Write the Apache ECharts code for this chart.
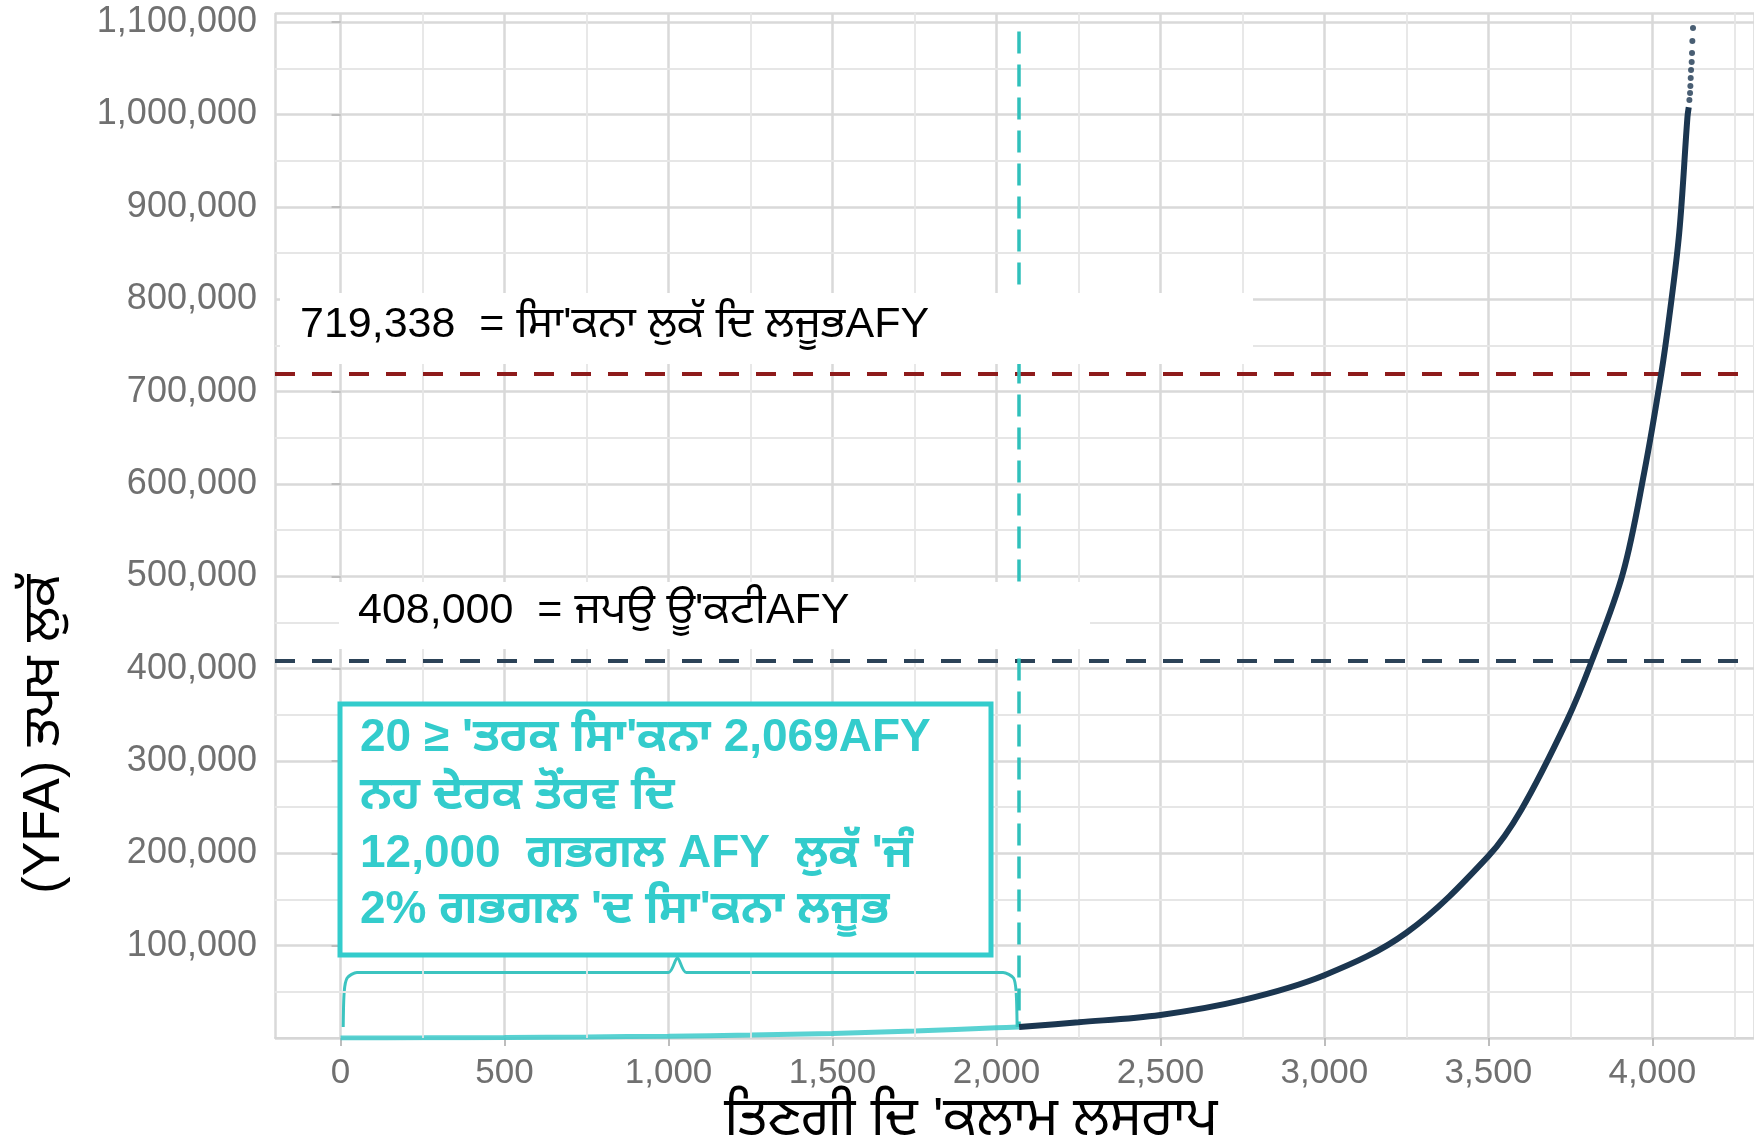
<!DOCTYPE html>
<html>
<head>
<meta charset="utf-8">
<script src="https://cdn.jsdelivr.net/npm/echarts@6/dist/echarts.min.js"></script>
<style>
  html, body { margin: 0; padding: 0; background: #fff; }
  #main { width: 1754px; height: 1145px; }
</style>
</head>
<body>
<div id="main"></div>
<script>
// owners count (x) vs cumulative extraction (y, AFY)
var smallX = [0, 250, 500, 750, 1000, 1250, 1500, 1750, 2000, 2069];
var smallY = [0, 150, 500, 1100, 2000, 3200, 5000, 7500, 11000, 12000];
var bigX = [2069, 2250, 2500, 2750, 3000, 3250, 3500, 3600, 3740, 3815, 3910, 3975, 4027, 4052, 4082, 4107, 4111];
var bigY = [12000, 17000, 25000, 41000, 68000, 114000, 197000, 247000, 344000, 408000, 503000, 612000, 719000, 782000, 872000, 997000, 1008000];
var topDotsX = [4113, 4115, 4116, 4117, 4118, 4120, 4121, 4122, 4124];
var topDotsY = [1015800, 1023400, 1031000, 1039600, 1048300, 1057000, 1066700, 1079700, 1093800];
var braceX = [8, 11, 20, 50, 1000, 1027, 1054, 2020, 2052, 2060, 2063];
var braceY = [12000, 50000, 65000, 71000, 71000, 87000, 71000, 71000, 65000, 50000, 12000];
var xMinorBreaks = [250, 750, 1250, 1750, 2250, 2750, 3250, 3750, 4250];
var yMinorBreaks = [50000, 150000, 250000, 350000, 450000, 550000, 650000, 750000, 850000, 950000, 1050000];
var totalExtraction = 719338;
var sustainableYield = 408000;
var smallOwnerCount = 2069;

var label1 = "719,338  = ਸਿਾ'ਕਨਾ ਲੁਕੱ ਦਿ ਲਜੂਭAFY";
var label2 = "408,000  = ਜਪਉ ਊ'ਕਟੀAFY";
var boxLines = [
  "20 ≥ 'ਤਰਕ ਸਿਾ'ਕਨਾ 2,069AFY",
  "ਨਹ ਦੇਰਕ ਤੋਂਰਵ ਦਿ",
  "12,000  ਗਭਗਲ AFY  ਲੁਕੱ 'ਜੰ",
  "2% ਗਭਗਲ 'ਦ ਸਿਾ'ਕਨਾ ਲਜੂਭ"
];
var xTitle = "ਤਿਣਗੀ ਦਿ 'ਕਲਾਮ ਲਸਰਾਪ";
var yTitle = "(YFA) ਤਪਖ ਲੁਕੱ";

var FONT = '"Liberation Sans", Arial, "Noto Sans Gurmukhi", "Noto Sans", sans-serif';
var TEAL = '#33cccc';
var NAVY = '#1b3650';

function zip(a, b) {
  return a.map(function (v, i) { return [v, b[i]]; });
}
function minorLines(vals, axis) {
  return vals.map(function (v) { var o = {}; o[axis] = v; return o; });
}

var chart = echarts.init(document.getElementById('main'));
var option = {
  animation: false,
  grid: { left: 275, right: 0, top: 13, bottom: 107 },
  xAxis: {
    type: 'value',
    min: -200,
    max: 4310,
    splitNumber: 9,
    axisLine: { show: true, lineStyle: { color: '#d6d6d6', width: 2 } },
    axisTick: { show: true, length: 8, lineStyle: { color: '#bdbdbd', width: 2 } },
    axisLabel: {
      showMinLabel: false, showMaxLabel: false,
      margin: 18, fontSize: 35, color: '#707070', fontFamily: FONT,
      formatter: function (v) { return v.toLocaleString('en-US'); }
    },
    splitLine: { show: true, lineStyle: { color: '#d9d9d9', width: 2.5 } }
  },
  yAxis: {
    type: 'value',
    min: 0,
    max: 1110000,
    interval: 100000,
    axisLine: { show: false },
    axisTick: { show: true, length: 9, lineStyle: { color: '#bdbdbd', width: 2 } },
    axisLabel: {
      showMinLabel: false, showMaxLabel: false,
      margin: 18, fontSize: 36, color: '#707070', fontFamily: FONT,
      formatter: function (v) { return v.toLocaleString('en-US'); }
    },
    splitLine: { show: true, lineStyle: { color: '#d9d9d9', width: 2.5 } }
  },
  series: [
    {
      // minor grid lines
      type: 'line', data: [], silent: true, z: 1,
      markLine: {
        silent: true, symbol: 'none', label: { show: false },
        lineStyle: { type: 'solid', color: '#e6e6e6', width: 1.8 },
        data: minorLines(xMinorBreaks, 'xAxis').concat(minorLines(yMinorBreaks, 'yAxis'))
      }
    },
    {
      // reference lines
      type: 'line', data: [], silent: true, z: 3,
      markLine: {
        silent: true, symbol: 'none', label: { show: false },
        data: [
          { yAxis: totalExtraction, lineStyle: { type: [20, 17], color: '#8e1b1b', width: 4 } },
          { yAxis: sustainableYield, lineStyle: { type: [20, 17], color: '#2b4257', width: 4 } },
          [
            { coord: [smallOwnerCount, 1090000], lineStyle: { type: [22, 11], color: '#2fc0bb', width: 3.5 } },
            { coord: [smallOwnerCount, 12000] }
          ]
        ]
      }
    },
    {
      name: 'small', type: 'line', data: zip(smallX, smallY), showSymbol: false,
      smooth: 0.3,
      lineStyle: { color: '#3ccaca', width: 5, opacity: 0.85 }, z: 4
    },
    {
      name: 'brace', type: 'line', data: zip(braceX, braceY), showSymbol: false, smooth: 0.25,
      lineStyle: { color: '#3cc4c0', width: 3 }, z: 4
    },
    {
      name: 'large', type: 'line', data: zip(bigX, bigY), showSymbol: false,
      smooth: 0.35,
      lineStyle: { color: NAVY, width: 6 }, z: 5
    },
    {
      name: 'topDots', type: 'scatter', data: zip(topDotsX, topDotsY), symbolSize: 6,
      itemStyle: { color: NAVY }, z: 5
    }
  ],
  graphic: [
    { type: 'rect', z: 20, shape: { x: 280, y: 293, width: 973, height: 71 }, style: { fill: '#fff' } },
    { type: 'text', z: 21, x: 300, y: 325, style: { text: label1, fill: '#000', font: '43px ' + FONT, verticalAlign: 'middle' } },
    { type: 'rect', z: 20, shape: { x: 339, y: 582, width: 751, height: 67 }, style: { fill: '#fff' } },
    { type: 'text', z: 21, x: 358, y: 611, style: { text: label2, fill: '#000', font: '43px ' + FONT, verticalAlign: 'middle' } },
    { type: 'rect', z: 20, shape: { x: 340, y: 704, width: 651, height: 251 }, style: { fill: '#fff', stroke: TEAL, lineWidth: 5 } },
    { type: 'text', z: 21, x: 360, y: 738, style: { text: boxLines[0], fill: TEAL, font: 'bold 46px ' + FONT, verticalAlign: 'middle' } },
    { type: 'text', z: 21, x: 360, y: 796, style: { text: boxLines[1], fill: TEAL, font: 'bold 46px ' + FONT, verticalAlign: 'middle' } },
    { type: 'text', z: 21, x: 360, y: 854, style: { text: boxLines[2], fill: TEAL, font: 'bold 46px ' + FONT, verticalAlign: 'middle' } },
    { type: 'text', z: 21, x: 360, y: 910, style: { text: boxLines[3], fill: TEAL, font: 'bold 46px ' + FONT, verticalAlign: 'middle' } },
    { type: 'text', z: 21, x: 971, y: 1120, style: { text: xTitle, fill: '#000', font: '54px ' + FONT, align: 'center', verticalAlign: 'middle' } },
    { type: 'text', z: 21, x: 45, y: 734, rotation: Math.PI / 2, style: { text: yTitle, fill: '#000', font: '52px ' + FONT, align: 'center', verticalAlign: 'middle' } }
  ]
};
chart.setOption(option);
</script>
</body>
</html>
